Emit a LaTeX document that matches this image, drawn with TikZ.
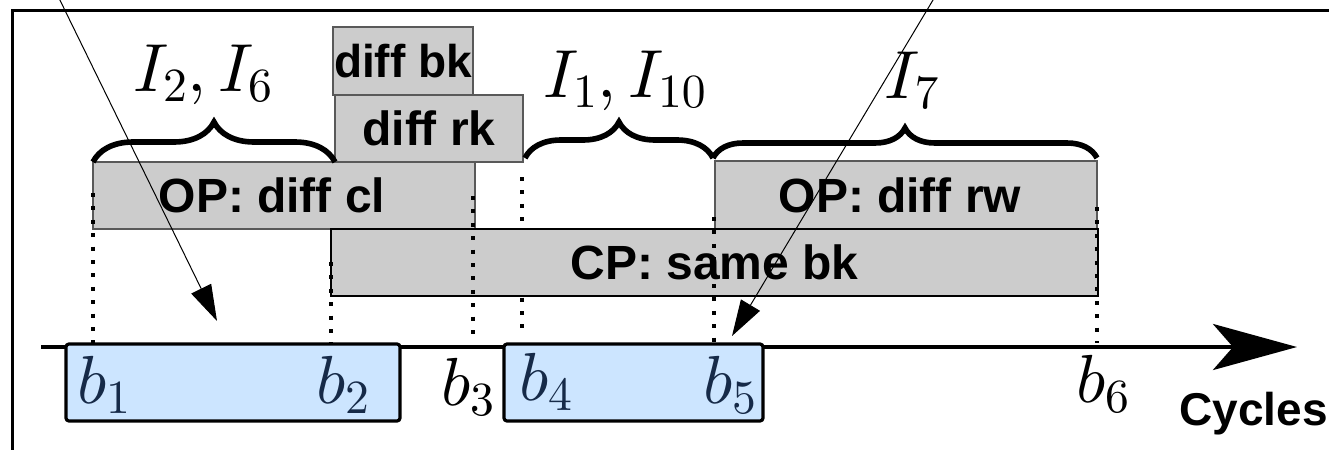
\RequirePackage{fix-cm}
\documentclass[tikz,border=0pt]{standalone}
\usepackage{fontspec}
\setsansfont{Liberation Sans}
\DeclareFontShape{OML}{cmm}{m}{it}{<-> cmmi10}{}
\DeclareFontShape{OT1}{cmr}{m}{n}{<-> cmr10}{}
\usetikzlibrary{arrows.meta, positioning, decorations.pathreplacing}
\definecolor{boxgrey}{RGB}{204,204,204}
\definecolor{bankblue}{RGB}{204,229,255}
\definecolor{labelnavy}{RGB}{22,42,72}

\begin{document}
\begin{tikzpicture}[
    x=0.5pt, y=-0.5pt,
    cmd/.style={rectangle, draw=black!65, line width=0.6pt, fill=boxgrey, inner sep=0pt, font=\fontsize{24}{28}\selectfont\sffamily\bfseries},
    phase/.style={cmd, draw=black, line width=1.3pt},
    burst/.style={rectangle, draw=black, line width=1.6pt, rounded corners=1.5pt, fill=bankblue, minimum height=38.5pt},
    lbl/.style={font=\fontsize{34}{40}\selectfont, anchor=base, inner sep=0pt},
    grp/.style={decorate, decoration={brace, amplitude=#1}, line width=2.8pt},
    guide/.style={line width=2pt, dash pattern=on 2pt off 4.7pt},
    pointer/.style={-{Triangle[length=18pt, width=11pt]}, line width=0.5pt},
    axis/.style={-{Stealth[length=42pt, width=23pt, inset=10pt]}, line width=2.2pt}
]
    \useasboundingbox (0,0) rectangle (1329,450);
    \clip (0,0) rectangle (1329,450);

    % Frame
    \draw[line width=1.5pt] (12,10) rectangle (1360,480);

    % Guide behind the CP box
    \draw[guide] (522,177) -- (522,332);

    % Command boxes
    \node[cmd, minimum width=70pt, minimum height=34pt, font=\fontsize{23}{27}\selectfont\sffamily\bfseries] (bk) at (403,61) {diff bk};
    \node[cmd, minimum width=94pt, minimum height=33.5pt] (rk) at (429,128.5) {diff rk};
    \node[cmd, minimum width=191pt, minimum height=33.5pt] (cl) at (284,195.5) {OP: diff cl\hspace*{12pt}};
    \node[cmd, minimum width=191pt, minimum height=34pt] (rw) at (906,195) {OP: diff rw\hspace*{6pt}};
    \node[phase, minimum width=383.5pt, minimum height=33.5pt] (cp) at (714.5,262.5) {CP: same bk};

    % Guides
    \foreach \x/\top in {93/193, 331/262, 473/196, 714/217, 1097/207}
        \draw[guide] (\x,\top) -- (\x,343);

    % Groups
    \draw[grp=20pt] (93,162) -- (335,162);
    \draw[grp=18pt] (525,158) -- (713,158);
    \draw[grp=15pt] (713,158) -- (1097,158);
    \node[lbl] (gA) at (203,91) {$I_2, I_6$};
    \node[lbl] (gB) at (625,97) {$I_1, I_{10}$};
    \node[lbl] (gC) at (912,98) {$I_7$};

    % Time axis
    \coordinate (t0) at (41,347);
    \coordinate (tend) at (1297,347);
    \draw[axis] (t0) -- (tend);
    \node[font=\fontsize{23}{27}\selectfont\sffamily\bfseries, anchor=base east, inner sep=0pt] (cyc) at (1328,425) {Cycles};

    % Bursts
    \node[burst, minimum width=167pt] (burstA) at (233,382.5) {};
    \node[burst, minimum width=129.5pt] (burstB) at (633.5,382.5) {};
    \node[lbl, text=labelnavy] (b1) at (104,403) {$b_1$};
    \node[lbl, text=labelnavy] (b2) at (343,403) {$b_2$};
    \node[lbl] (b3) at (468,405) {$b_3$};
    \node[lbl, text=labelnavy] (b4) at (546,400) {$b_4$};
    \node[lbl, text=labelnavy] (b5) at (730,403) {$b_5$};
    \node[lbl] (b6) at (1103,402) {$b_6$};

    % Pointers
    \coordinate (srcA) at (55,-10);
    \coordinate (tipA) at (217,321);
    \coordinate (srcB) at (939,-10);
    \coordinate (tipB) at (732,336);
    \draw[pointer] (srcA) -- (tipA);
    \draw[pointer] (srcB) -- (tipB);
\end{tikzpicture}
\end{document}
